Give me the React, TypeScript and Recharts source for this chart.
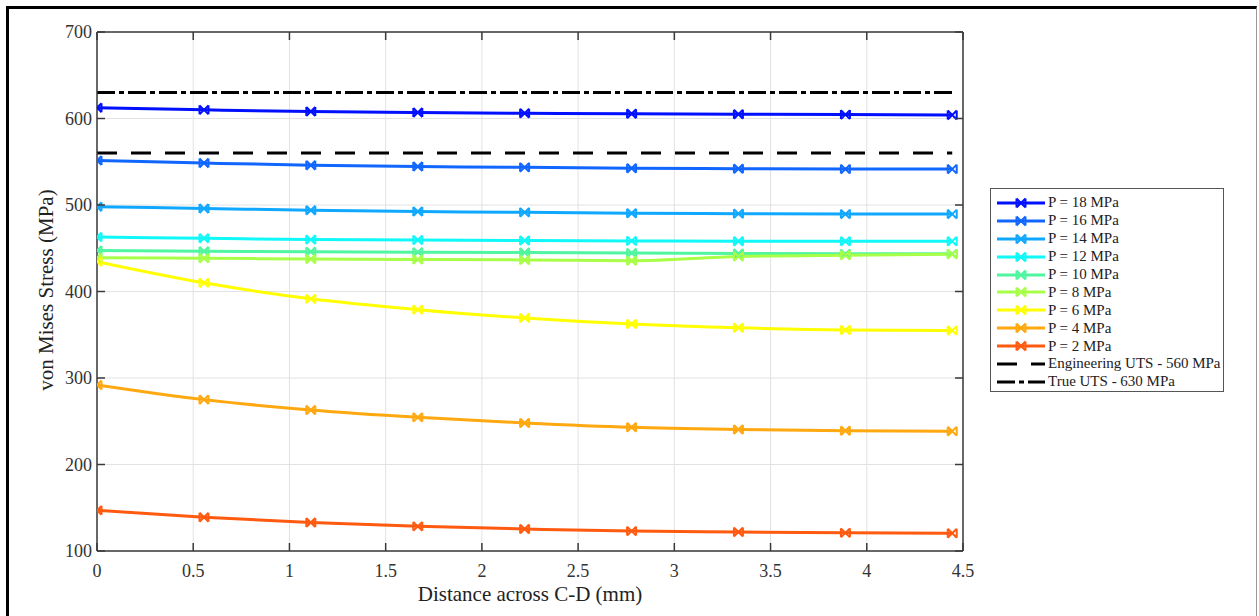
import React from 'react';
import {
  CartesianGrid,
  Line,
  LineChart,
  XAxis,
  YAxis,
} from 'recharts';

const distance = [0, 0.556, 1.111, 1.667, 2.222, 2.778, 3.333, 3.889, 4.444];

const p18 = [612.5, 610, 608, 607, 606, 605.5, 605, 604.5, 604];
const p16 = [551.5, 548.5, 546, 544.5, 543.5, 542.5, 542, 541.5, 541.5];
const p14 = [498, 496, 494, 492.5, 491.5, 490.5, 490, 489.5, 489.5];
const p12 = [463, 461.5, 460, 459.5, 459, 458.5, 458, 458, 458];
const p10 = [447.5, 446.5, 446, 445.5, 445, 444.5, 444, 443.5, 443.5];
const p8 = [439, 438.5, 437.5, 437, 436.5, 435.5, 440.5, 442, 443];
const p6 = [434.5, 410, 391.5, 379, 369.5, 362.5, 358, 355.5, 355];
const p4 = [292, 275, 263, 254.5, 248, 243, 240.5, 239, 238.5];
const p2 = [147, 139, 133, 128.5, 125.5, 123, 122, 121, 120.5];
const engUts = 560;
const trueUts = 630;

const xTicks = [0, 0.5, 1, 1.5, 2, 2.5, 3, 3.5, 4, 4.5];
const yTicks = [100, 200, 300, 400, 500, 600, 700];

const series = [
  { key: 'p18', name: 'P = 18 MPa', values: p18, color: '#0010ff' },
  { key: 'p16', name: 'P = 16 MPa', values: p16, color: '#1066ff' },
  { key: 'p14', name: 'P = 14 MPa', values: p14, color: '#10a8ff' },
  { key: 'p12', name: 'P = 12 MPa', values: p12, color: '#10f8f8' },
  { key: 'p10', name: 'P = 10 MPa', values: p10, color: '#50f5a0' },
  { key: 'p8', name: 'P = 8 MPa', values: p8, color: '#a8ff48' },
  { key: 'p6', name: 'P = 6 MPa', values: p6, color: '#ffff00' },
  { key: 'p4', name: 'P = 4 MPa', values: p4, color: '#ffa810' },
  { key: 'p2', name: 'P = 2 MPa', values: p2, color: '#ff5a10' },
];

const data = distance.map((d, i) => {
  const row: any = { d, eng: engUts, tru: trueUts };
  series.forEach((s) => (row[s.key] = s.values[i]));
  return row;
});

const FONT = '"Liberation Serif", "Times New Roman", serif';
const AXIS = '#3a3a3a';

const Marker = (props: any) => {
  const { cx, cy, stroke } = props;
  if (cx == null || cy == null) return null;
  const r = 4.5;
  return (
    <path
      d={`M${cx - r},${cy - r}L${cx + r},${cy + r}M${cx - r},${cy + r}L${cx + r},${cy - r}M${cx - r},${cy - r}L${cx - r},${cy + r}M${cx + r},${cy - r}L${cx + r},${cy + r}`}
      stroke={stroke}
      strokeWidth={2}
      fill="none"
    />
  );
};

const BottomTick = ({ x, payload }: any) => (
  <g>
    <line x1={x} y1={551} x2={x} y2={543} stroke={AXIS} strokeWidth={1.5} />
    <text x={x} y={577} textAnchor="middle" fontSize={18} fill="#333" fontFamily={FONT}>
      {payload.value}
    </text>
  </g>
);

const TopTick = ({ x }: any) => (
  <line x1={x} y1={32} x2={x} y2={40} stroke={AXIS} strokeWidth={1.5} />
);

const LeftTick = ({ y, payload }: any) => (
  <g>
    <line x1={97} y1={y} x2={105} y2={y} stroke={AXIS} strokeWidth={1.5} />
    <text x={92} y={y + 6} textAnchor="end" fontSize={18} fill="#333" fontFamily={FONT}>
      {payload.value}
    </text>
  </g>
);

const RightTick = ({ y }: any) => (
  <line x1={963} y1={y} x2={955} y2={y} stroke={AXIS} strokeWidth={1.5} />
);

const LegendBox = () => (
  <div
    style={{
      position: 'absolute',
      left: 990,
      top: 188,
      width: 234,
      height: 204,
      border: '1px solid #555',
      background: '#fff',
      fontFamily: FONT,
      fontSize: 15,
      color: '#222',
      boxSizing: 'border-box',
      paddingTop: 5,
    }}
  >
    {series.map((s) => (
      <div key={s.key} style={{ display: 'flex', alignItems: 'center', height: 17.9 }}>
        <svg width={54} height={14} style={{ marginLeft: 3 }}>
          <line x1={3} y1={7} x2={51} y2={7} stroke={s.color} strokeWidth={3} />
          <Marker cx={27} cy={7} stroke={s.color} />
        </svg>
        <span>{s.name}</span>
      </div>
    ))}
    <div style={{ display: 'flex', alignItems: 'center', height: 17.9 }}>
      <svg width={54} height={14} style={{ marginLeft: 3 }}>
        <line x1={3} y1={7} x2={51} y2={7} stroke="#000" strokeWidth={3} strokeDasharray="20 14" />
      </svg>
      <span>Engineering UTS - 560 MPa</span>
    </div>
    <div style={{ display: 'flex', alignItems: 'center', height: 17.9 }}>
      <svg width={54} height={14} style={{ marginLeft: 3 }}>
        <line x1={3} y1={7} x2={51} y2={7} stroke="#000" strokeWidth={3} strokeDasharray="18 4 5 4" />
      </svg>
      <span>True UTS - 630 MPa</span>
    </div>
  </div>
);

export default function App() {
  return (
    <div
      style={{
        position: 'fixed',
        left: 0,
        top: 0,
        width: 1259,
        height: 616,
        background: '#fff',
        overflow: 'hidden',
      }}
    >
      <div
        style={{
          position: 'absolute',
          left: 6,
          top: 6,
          width: 1251,
          height: 640,
          borderLeft: '3px solid #000',
          borderTop: '3px solid #000',
          borderRight: '1px solid #999',
          boxSizing: 'border-box',
        }}
      />
      <div style={{ position: 'absolute', left: 0, top: 0 }}>
        <LineChart
          width={1259}
          height={616}
          data={data}
          margin={{ top: 2, right: 266, bottom: 35, left: 67 }}
        >
          <CartesianGrid
            xAxisId="bottom"
            yAxisId="left"
            stroke="#e2e2e2"
            strokeWidth={1}
          />
          <XAxis
            xAxisId="bottom"
            dataKey="d"
            type="number"
            domain={[0, 4.5]}
            ticks={xTicks}
            height={30}
            tick={<BottomTick />}
            tickLine={false}
            stroke={AXIS}
            strokeWidth={1.5}
            interval={0}
            allowDataOverflow
          />
          <XAxis
            xAxisId="top"
            orientation="top"
            dataKey="d"
            type="number"
            domain={[0, 4.5]}
            ticks={xTicks}
            height={30}
            tick={<TopTick />}
            tickLine={false}
            stroke={AXIS}
            strokeWidth={1.5}
            interval={0}
            allowDataOverflow
          />
          <YAxis
            yAxisId="left"
            type="number"
            domain={[100, 700]}
            ticks={yTicks}
            width={30}
            tick={<LeftTick />}
            tickLine={false}
            stroke={AXIS}
            strokeWidth={1.5}
            interval={0}
            allowDataOverflow
          />
          <YAxis
            yAxisId="right"
            orientation="right"
            type="number"
            domain={[100, 700]}
            ticks={yTicks}
            width={30}
            tick={<RightTick />}
            tickLine={false}
            stroke={AXIS}
            strokeWidth={1.5}
            interval={0}
            allowDataOverflow
          />
          <Line
            xAxisId="bottom"
            yAxisId="left"
            dataKey="tru"
            stroke="#000"
            strokeWidth={3}
            strokeDasharray="18 4 5 4"
            dot={false}
            isAnimationActive={false}
          />
          <Line
            xAxisId="bottom"
            yAxisId="left"
            dataKey="eng"
            stroke="#000"
            strokeWidth={3}
            strokeDasharray="20 14"
            dot={false}
            isAnimationActive={false}
          />
          {series.map((s) => (
            <Line
              key={s.key}
              xAxisId="bottom"
              yAxisId="left"
              type="monotone"
              dataKey={s.key}
              name={s.name}
              stroke={s.color}
              strokeWidth={3}
              dot={<Marker />}
              activeDot={false}
              isAnimationActive={false}
            />
          ))}
          <Line
            xAxisId="top"
            yAxisId="right"
            dataKey="eng"
            stroke="none"
            dot={false}
            legendType="none"
            isAnimationActive={false}
          />
        </LineChart>
      </div>
      <LegendBox />
      <div
        style={{
          position: 'absolute',
          left: 530,
          top: 594,
          transform: 'translate(-50%, -50%)',
          fontFamily: FONT,
          fontSize: 21,
          color: '#222',
          whiteSpace: 'nowrap',
        }}
      >
        Distance across C-D (mm)
      </div>
      <div
        style={{
          position: 'absolute',
          left: 46,
          top: 290,
          transform: 'translate(-50%, -50%) rotate(-90deg)',
          fontFamily: FONT,
          fontSize: 21,
          color: '#222',
          whiteSpace: 'nowrap',
        }}
      >
        von Mises Stress (MPa)
      </div>
    </div>
  );
}
